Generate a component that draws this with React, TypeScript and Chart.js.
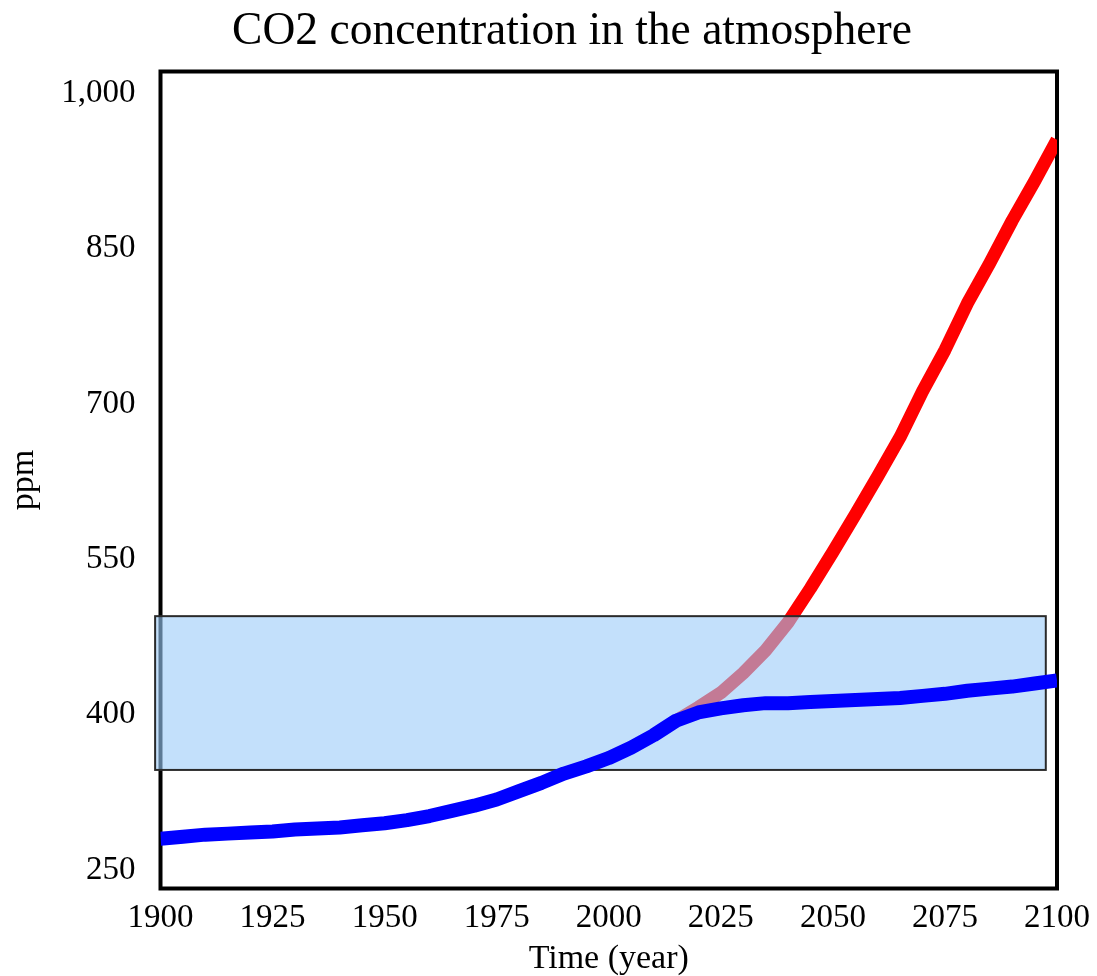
import React, { useEffect, useRef } from "react";
import { Chart, registerables } from "chart.js";

Chart.register(...registerables);

const FONT = "'Liberation Serif', 'Times New Roman', serif";

// Historical / stabilised concentration (blue)
const years = [
  1900, 1905, 1910, 1915, 1920, 1925, 1930, 1935, 1940, 1945, 1950, 1955, 1960, 1965, 1970,
  1975, 1980, 1985, 1990, 1995, 2000, 2005, 2010, 2015, 2020, 2025, 2030, 2035, 2040, 2045,
  2050, 2055, 2060, 2065, 2070, 2075, 2080, 2085, 2090, 2095, 2100,
];
const stabilisedPpm = [
  280, 282, 284, 285, 286, 287, 289, 290, 291, 293, 295, 298, 302, 307, 312,
  318, 326, 334, 343, 350, 358, 368, 380, 394, 402, 406, 409, 411, 411, 412,
  413, 414, 415, 416, 418, 420, 423, 425, 427, 430, 433,
];

// Business-as-usual scenario (red)
const scenarioYears = [
  2015, 2020, 2025, 2030, 2035, 2040, 2045, 2050, 2055, 2060, 2065, 2070, 2075, 2080, 2085,
  2090, 2095, 2100,
];
const scenarioPpm = [
  394, 407, 421, 440, 462, 489, 522, 557, 593, 630, 668, 712, 752, 797, 836,
  877, 915, 955,
];

// Shaded band
const bandYears = [1898.8, 2097.5];
const bandPpm = [346.5, 495];

// Axis ticks
const xTickValues = [1900, 1925, 1950, 1975, 2000, 2025, 2050, 2075, 2100];
const xTickLabels = ["1900", "1925", "1950", "1975", "2000", "2025", "2050", "2075", "2100"];
const yTickValues = [250, 400, 550, 700, 850, 1000];
const yTickLabels = ["250", "400", "550", "700", "850", "1,000"];

const TITLE = "CO2 concentration in the atmosphere";

export default function App() {
  const ref = useRef<HTMLCanvasElement | null>(null);

  useEffect(() => {
    if (!ref.current) return;

    const framePlugin = {
      id: "frame",
      beforeDatasetsDraw(chart: any) {
        const { ctx, chartArea } = chart;
        ctx.save();
        ctx.strokeStyle = "#000";
        ctx.lineWidth = 4;
        ctx.strokeRect(
          chartArea.left,
          chartArea.top,
          chartArea.right - chartArea.left,
          chartArea.bottom - chartArea.top
        );
        ctx.restore();
      },
    };

    const bandPlugin = {
      id: "band",
      afterDatasetDraw(chart: any, args: any) {
        if (args.index !== 1) return;
        const { ctx, scales } = chart;
        const x0 = scales.x.getPixelForValue(bandYears[0]);
        const x1 = scales.x.getPixelForValue(bandYears[1]);
        const y0 = scales.y.getPixelForValue(bandPpm[1]);
        const y1 = scales.y.getPixelForValue(bandPpm[0]);
        ctx.save();
        ctx.fillStyle = "rgba(155, 203, 248, 0.6)";
        ctx.fillRect(x0, y0, x1 - x0, y1 - y0);
        ctx.strokeStyle = "#2a2a2a";
        ctx.lineWidth = 2;
        ctx.strokeRect(x0, y0, x1 - x0, y1 - y0);
        ctx.restore();
      },
    };

    const titlePlugin = {
      id: "customTitle",
      afterDraw(chart: any) {
        const { ctx } = chart;
        ctx.save();
        ctx.fillStyle = "#000";
        ctx.font = `45.5px ${FONT}`;
        ctx.textAlign = "center";
        ctx.textBaseline = "alphabetic";
        ctx.fillText(TITLE, 572, 44);
        ctx.restore();
      },
    };

    const chart = new Chart(ref.current, {
      type: "line",
      data: {
        datasets: [
          {
            label: "Stabilised",
            data: years.map((y, i) => ({ x: y, y: stabilisedPpm[i] })),
            borderColor: "#0000ff",
            backgroundColor: "#0000ff",
            borderWidth: 14,
            pointRadius: 0,
            tension: 0,
            fill: false,
            borderCapStyle: "butt",
            borderJoinStyle: "round",
            clip: 0,
          },
          {
            label: "Scenario",
            data: scenarioYears.map((y, i) => ({ x: y, y: scenarioPpm[i] })),
            borderColor: "#ff0000",
            backgroundColor: "#ff0000",
            borderWidth: 13,
            pointRadius: 0,
            tension: 0,
            fill: false,
            borderCapStyle: "butt",
            borderJoinStyle: "round",
            clip: 0,
          },
        ],
      },
      options: {
        responsive: false,
        animation: false,
        devicePixelRatio: 1,
        layout: { padding: { top: 71.5, right: 40, left: 0, bottom: 0 } },
        plugins: {
          legend: { display: false },
          title: { display: false },
          tooltip: { enabled: false },
        },
        scales: {
          x: {
            type: "linear",
            min: 1900,
            max: 2100,
            afterBuildTicks: (s: any) => {
              s.ticks = xTickValues.map((v) => ({ value: v }));
            },
            afterFit: (s: any) => {
              s.height = 87.5;
              s.paddingLeft = 0;
              s.paddingRight = 0;
            },
            ticks: {
              autoSkip: false,
              maxRotation: 0,
              minRotation: 0,
              padding: 10,
              color: "#000",
              font: { family: FONT, size: 33 },
              callback: (v: any) => xTickLabels[xTickValues.indexOf(Number(v))] ?? String(v),
            },
            grid: { display: false, drawTicks: false },
            border: { display: false },
            title: {
              display: true,
              text: "Time (year)",
              color: "#000",
              font: { family: FONT, size: 34 },
              padding: { top: 0, bottom: -3 },
            },
          },
          y: {
            type: "linear",
            min: 232,
            max: 1021,
            afterBuildTicks: (s: any) => {
              s.ticks = yTickValues.map((v) => ({ value: v }));
            },
            afterFit: (s: any) => {
              s.width = 160.5;
              s.paddingTop = 0;
              s.paddingBottom = 0;
            },
            ticks: {
              autoSkip: false,
              padding: 25,
              color: "#000",
              font: { family: FONT, size: 33 },
              callback: (v: any) => yTickLabels[yTickValues.indexOf(Number(v))] ?? String(v),
            },
            grid: { display: false, drawTicks: false },
            border: { display: false },
            title: {
              display: true,
              text: "ppm",
              color: "#000",
              font: { family: FONT, size: 34 },
              padding: { top: 4, bottom: 0 },
            },
          },
        },
      },
      plugins: [framePlugin, bandPlugin, titlePlugin],
    } as any);

    return () => chart.destroy();
  }, []);

  return (
    <canvas
      ref={ref}
      width={1097}
      height={976}
      style={{ position: "absolute", left: 0, top: 0, width: 1097, height: 976, display: "block" }}
    />
  );
}
